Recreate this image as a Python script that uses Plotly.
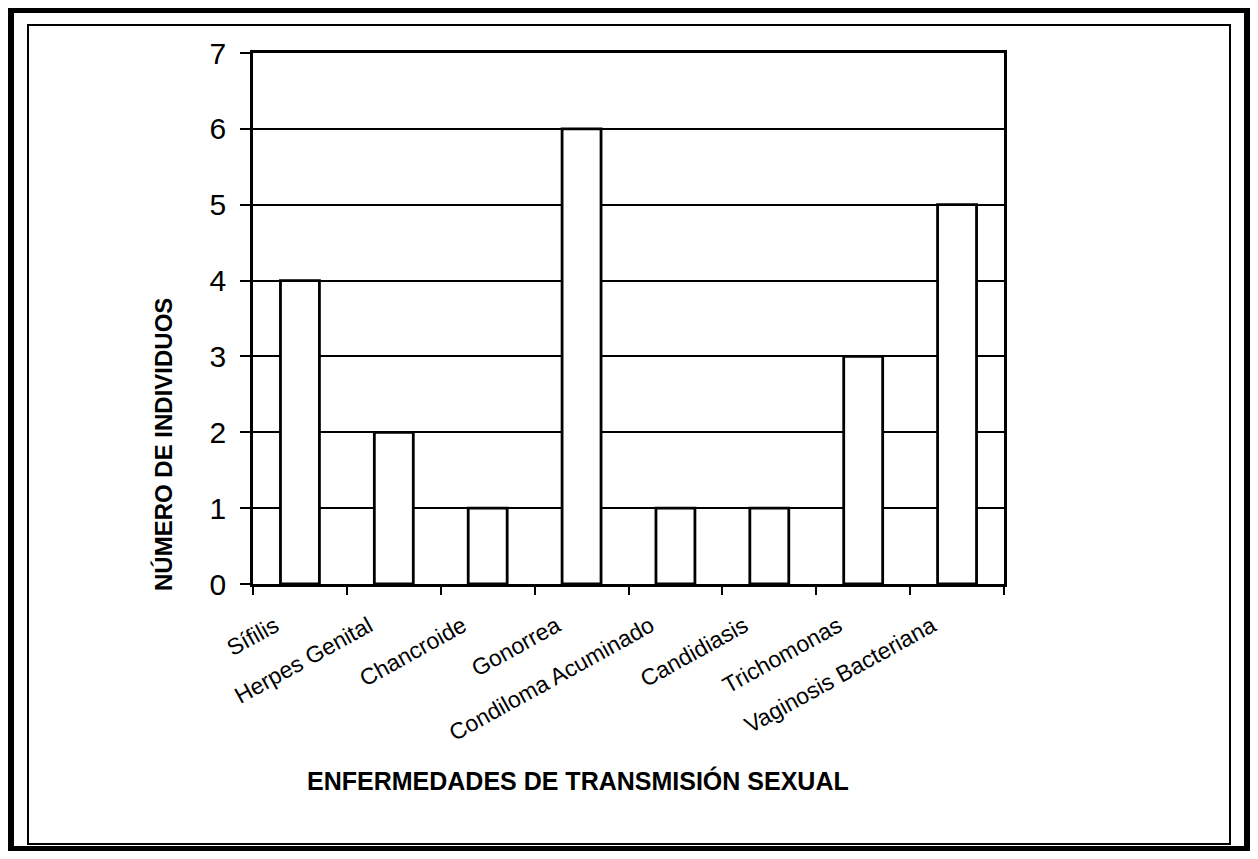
import plotly.graph_objects as go

categories = ["Sífilis", "Herpes Genital", "Chancroide", "Gonorrea",
              "Condiloma Acuminado", "Candidiasis", "Trichomonas", "Vaginosis Bacteriana"]
values = [4, 2, 1, 6, 1, 1, 3, 5]
y_ticks = [0, 1, 2, 3, 4, 5, 6, 7]
x_title = "ENFERMEDADES DE TRANSMISIÓN SEXUAL"
y_title = "NÚMERO DE INDIVIDUOS"

OFF = 8  # page body margin
W, H = 1258 - 2 * OFF, 859 - 2 * OFF
L = 253 - OFF
T = 53 - OFF
R = W - (1004 - OFF)
B = H - (584 - OFF)
PW, PH = W - L - R, H - T - B


def px(sx):
    return (sx - OFF - L) / PW


def py(sy):
    return (H - B - (sy - OFF)) / PH


FONT = "Liberation Sans, Arial, sans-serif"

fig = go.Figure()
fig.add_trace(go.Bar(
    x=categories, y=values, width=0.415,
    marker=dict(color="white", line=dict(color="black", width=2.8)),
    showlegend=False,
))

fig.update_layout(
    width=W, height=H,
    margin=dict(l=L, r=R, t=T, b=B, pad=0),
    paper_bgcolor="white", plot_bgcolor="white",
    font=dict(family=FONT, color="black"),
    xaxis=dict(
        type="category", tickson="boundaries", ticks="outside", ticklen=8,
        tickwidth=2, tickcolor="black",
        showline=True, linecolor="black", linewidth=2.5, mirror=True,
        showgrid=False, tickangle=-29,
        tickfont=dict(family=FONT, size=23, color="black"),
        ticklabelshift=-25, ticklabelstandoff=17,
        range=[-0.5, 7.5],
    ),
    yaxis=dict(
        range=[0, 7], tickvals=y_ticks, ticks="outside", ticklen=10,
        tickwidth=2, tickcolor="black",
        showline=True, linecolor="black", linewidth=2.5, mirror=True,
        showgrid=True, gridcolor="black", gridwidth=1.8,
        zeroline=False,
        tickfont=dict(family=FONT, size=30, color="black"),
        ticklabelstandoff=8,
    ),
    annotations=[
        dict(text="<b>" + x_title + "</b>", xref="paper", yref="paper",
             x=px(578), y=py(780), xanchor="center", yanchor="middle",
             showarrow=False, font=dict(family=FONT, size=25, color="black")),
        dict(text="<b>" + y_title + "</b>", xref="paper", yref="paper",
             x=px(164), y=py(445), xanchor="center", yanchor="middle",
             textangle=-90,
             showarrow=False, font=dict(family=FONT, size=24, color="black")),
    ],
    shapes=[
        dict(type="rect", xref="paper", yref="paper",
             x0=px(11), x1=px(1247), y0=py(849), y1=py(10),
             line=dict(color="black", width=6), layer="above"),
        dict(type="rect", xref="paper", yref="paper",
             x0=px(28), x1=px(1230), y0=py(844), y1=py(25),
             line=dict(color="black", width=2), layer="above"),
    ],
)

fig.write_html("out.html")
